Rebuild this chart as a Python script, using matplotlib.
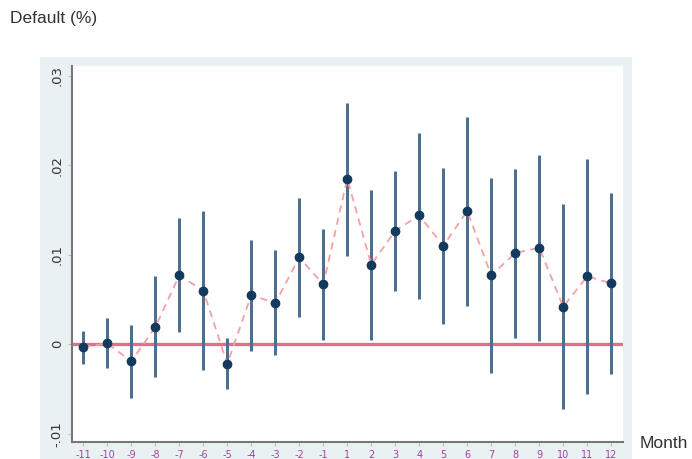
import matplotlib.pyplot as plt
import numpy as np

months = ["-11", "-10", "-9", "-8", "-7", "-6", "-5", "-4", "-3", "-2", "-1",
          "1", "2", "3", "4", "5", "6", "7", "8", "9", "10", "11", "12"]
coef = [-0.0003, 0.0001, -0.0019, 0.0019, 0.0077, 0.0060, -0.0022, 0.0055, 0.0046, 0.0097, 0.0067,
        0.0185, 0.0089, 0.0127, 0.0144, 0.0110, 0.0149, 0.0077, 0.0102, 0.0108, 0.0042, 0.0076, 0.0068]
ci_low = [-0.0022, -0.0027, -0.0060, -0.0037, 0.0014, -0.0029, -0.0050, -0.0008, -0.0012, 0.0031, 0.0005,
          0.0099, 0.0005, 0.0059, 0.0051, 0.0023, 0.0043, -0.0032, 0.0007, 0.0004, -0.0072, -0.0056, -0.0033]
ci_high = [0.0015, 0.0029, 0.0022, 0.0076, 0.0141, 0.0149, 0.0007, 0.0117, 0.0105, 0.0163, 0.0129,
           0.0270, 0.0172, 0.0194, 0.0236, 0.0197, 0.0254, 0.0186, 0.0196, 0.0212, 0.0157, 0.0207, 0.0169]
yticks = [-0.01, 0, 0.01, 0.02, 0.03]
ytick_labels = ["-.01", "0", ".01", ".02", ".03"]

fig = plt.figure(figsize=(6.92, 4.59), dpi=100)
fig.patch.set_facecolor("white")

# light graph-region frame behind the plot area
bg = fig.add_axes([40 / 692, 0, (632 - 40) / 692, (459 - 57) / 459], zorder=0)
bg.set_facecolor("#eaf1f3")
bg.set_xticks([])
bg.set_yticks([])
for s in bg.spines.values():
    s.set_visible(False)

ax = fig.add_axes([72 / 692, 17 / 459, (623 - 72) / 692, (442 - 66) / 459], zorder=1)
ax.set_facecolor("white")

x = np.arange(len(months))
ax.axhline(0, color="#e0708a", linewidth=2.4, zorder=1)
ax.vlines(x, ci_low, ci_high, color="#4f6f8f", linewidth=2.2, zorder=2)
ax.plot(x, coef, linestyle=(0, (4, 3)), color="#f7a0a4", linewidth=1.3, zorder=3)
ax.plot(x, coef, "o", color="#123a5e", markersize=6, zorder=4)

ax.set_xlim(-0.47, 22.49)
ax.set_ylim(-0.01092, 0.0311)
ax.set_xticks(x)
ax.set_xticklabels(months, color="#a040a8", fontsize=7)
ax.set_yticks(yticks)
ax.set_yticklabels(ytick_labels, rotation=90, va="center", fontsize=9.5, color="#333333")

for side in ["top", "right"]:
    ax.spines[side].set_visible(False)
for side in ["left", "bottom"]:
    ax.spines[side].set_color("#777777")
    ax.spines[side].set_linewidth(1.5)
ax.tick_params(axis="both", length=3, color="#bbbbbb", width=0.8, pad=3)

fig.text(10 / 692, 1 - 18 / 459, "Default (%)", fontsize=12.5, color="#333333",
         va="center", ha="left", family="Liberation Sans")
fig.text(640 / 692, 1 - 444 / 459, "Month", fontsize=12.5, color="#333333",
         va="center", ha="left", family="Liberation Sans")

fig.savefig("out.png", dpi=100)
